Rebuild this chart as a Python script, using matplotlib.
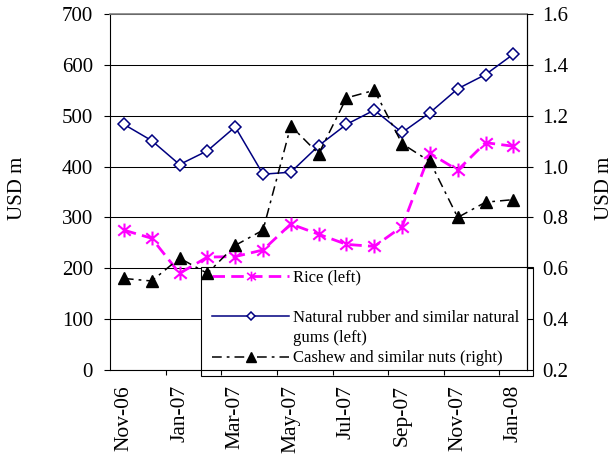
import numpy as np
import matplotlib
matplotlib.use('Agg')
import matplotlib.pyplot as plt
from matplotlib.path import Path
from matplotlib.lines import Line2D
from matplotlib.patches import Rectangle

plt.rcParams['font.family'] = ['Liberation Serif', 'DejaVu Serif']
plt.rcParams['lines.scale_dashes'] = False

# ---- data ----
months = ['Nov-06', 'Dec-06', 'Jan-07', 'Feb-07', 'Mar-07', 'Apr-07', 'May-07',
          'Jun-07', 'Jul-07', 'Aug-07', 'Sep-07', 'Oct-07', 'Nov-07', 'Dec-07', 'Jan-08']
rice = [275, 259, 190, 222, 223, 236, 287, 267, 247, 243, 282, 426, 393, 447, 440]
rubber = [483, 451, 404, 431, 478, 385, 389, 441, 483, 511, 467, 506, 553, 581, 621]
cashew = [0.56, 0.55, 0.64, 0.58, 0.69, 0.75, 1.16, 1.05, 1.27, 1.30, 1.09, 1.02, 0.80, 0.86, 0.87]
left_ticks = [0, 100, 200, 300, 400, 500, 600, 700]
right_ticks = [0.2, 0.4, 0.6, 0.8, 1.0, 1.2, 1.4, 1.6]
label_months = months[::2]
legend_labels = ['Rice (left)', '', 'Natural rubber and similar natural',
                 'gums (left)', 'Cashew and similar nuts (right)']

MAGENTA = '#FF00FF'
NAVY = '#000080'

fig = plt.figure(figsize=(6.14, 4.61), dpi=100)
fig.patch.set_facecolor('white')
ax = fig.add_axes([110 / 614, 1 - 370 / 461, 417.3 / 614, 356 / 461])
ax2 = ax.twinx()

x = np.arange(len(months))

star = Path([(0, -1), (0, 1), (-0.9, -0.75), (0.9, 0.75), (-0.9, 0.75), (0.9, -0.75)],
            [Path.MOVETO, Path.LINETO] * 3)

ax.plot(x, rice, color=MAGENTA, lw=2, dashes=(9, 4.5), marker=star, ms=10, mew=1.5,
        mec=MAGENTA, zorder=3)
ax.plot(x, rubber, color=NAVY, lw=1.1, marker='D', ms=6, mfc='white', mec=NAVY,
        mew=1.1, zorder=3)
ax2.plot(x, cashew, color='black', lw=1.1, dashes=(7, 3.6, 2, 3.6), marker='^', ms=9,
         zorder=3)

ax.set_xlim(-0.5, len(months) - 0.5)
ax.set_ylim(0, 700)
ax2.set_ylim(0.2, 1.6)

# y ticks
ax.set_yticks(left_ticks)
ax.tick_params(axis='y', direction='out', length=4.3, width=0.8, labelsize=15, pad=8)
ax.yaxis.grid(True, color='black', lw=0.75)
ax.set_axisbelow(True)
ax2.set_yticks(right_ticks)
ax2.set_yticklabels(['%.1f' % v for v in right_ticks])
ax2.tick_params(axis='y', direction='out', length=4.3, width=0.8, labelsize=15, pad=6.5)

# x ticks: marks at boundaries, labels at category centres
ax.set_xticks(np.arange(1.5, len(months) - 1, 2))
ax.tick_params(axis='x', which='major', direction='out', length=3.6, width=0.8,
               labelbottom=False)
ax.set_xticks(x[::2], labels=label_months, minor=True)
ax.tick_params(axis='x', which='minor', length=0, labelsize=15.5, labelrotation=90, pad=10.8)
ax.xaxis.set_zorder(2.5)

# spines
for s in ['left', 'bottom', 'right']:
    ax.spines[s].set_color('black')
    ax.spines[s].set_linewidth(0.8)
ax.spines['top'].set_color('#808080')
ax.spines['top'].set_linewidth(1.2)
for s in ['left', 'bottom', 'top']:
    ax2.spines[s].set_visible(False)
ax2.spines['right'].set_color('black')
ax2.spines['right'].set_linewidth(0.8)

ax.set_ylabel('USD m', fontsize=15, va='center')
ax.yaxis.set_label_coords(-0.2217, 0.51)
ax2.set_ylabel('USD m', fontsize=15, va='center')
ax2.yaxis.set_label_coords(1.185, 0.51)

# legend box
ax.add_patch(Rectangle((0.2169, -0.0169), 0.7975, 0.3071, transform=ax.transAxes,
                       facecolor='white', edgecolor='black', lw=0.8, clip_on=False,
                       zorder=1))
blank = Line2D([], [], linestyle='none')
rice_h = Line2D([], [], color=MAGENTA, lw=2, dashes=(9, 4.5), marker=star, ms=7, mew=1.2)
rubber_h = Line2D([], [], color=NAVY, lw=1.1, marker='D', ms=4, mfc='white', mec=NAVY, mew=1.1)
cashew_h = Line2D([], [], color='black', lw=1.1, dashes=(7, 3.6, 2, 3.6), marker='^', ms=7)
leg = ax.legend([rice_h, blank, rubber_h, blank, cashew_h], legend_labels,
                loc='center left', bbox_to_anchor=(0.2437, 0.1458), borderaxespad=0,
                borderpad=0, frameon=False, fontsize=12, handlelength=4.66,
                handletextpad=0.2, labelspacing=0.25, numpoints=1)
leg.set_zorder(4)

fig.savefig('out.png', dpi=100, facecolor='white')
